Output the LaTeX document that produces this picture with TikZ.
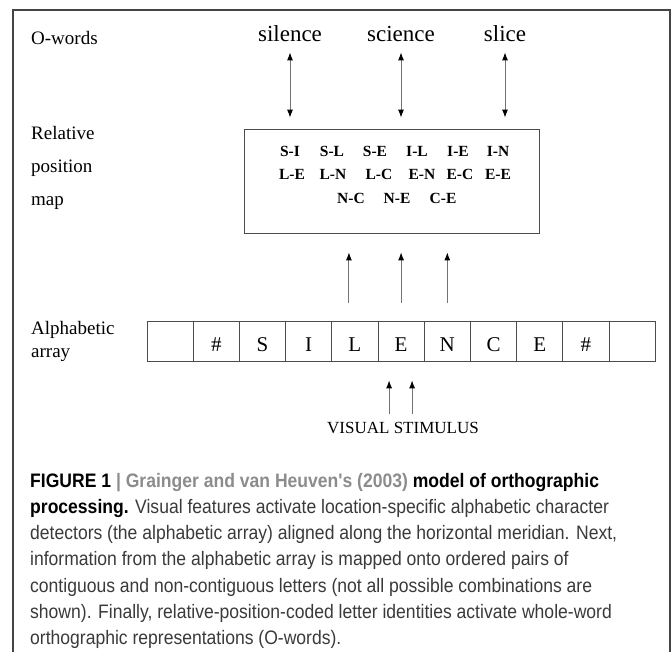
\documentclass[tikz,border=0pt]{standalone}
\usepackage{fontspec}
\setmainfont{Liberation Serif}
\newfontfamily\capfont[FakeStretch=0.9]{Liberation Sans}
\usetikzlibrary{arrows.meta}
\definecolor{framegray}{HTML}{454545}
\definecolor{textgray}{HTML}{3A3A3A}
\definecolor{headgray}{HTML}{8C8C8C}

\begin{document}
\begin{tikzpicture}[x=1pt, y=-1pt,
  >={Latex[length=8pt,width=6pt,color=black]},
  side/.style={anchor=base west, inner sep=0pt, font=\fontsize{19}{19}\selectfont},
  word/.style={anchor=base, inner sep=0pt, font=\fontsize{23}{23}\selectfont},
  pair/.style={anchor=base, inner sep=0pt, font=\fontsize{15.5}{15.5}\selectfont\bfseries},
  cell/.style={draw=black!70, line width=0.8pt, minimum width=46.2pt, minimum height=40pt,
    inner sep=0pt, text height=20pt, text depth=0pt, font=\fontsize{21}{21}\selectfont},
  link/.style={draw=black!55, line width=0.9pt}]
  \useasboundingbox (0,0) rectangle (671,652);
  \draw[framegray, line width=1.5pt] (13,652) -- (13,10) -- (670,10) -- (670,652);

  % left labels
  \node[side] (owords) at (31,45) {O-words};
  \node[side] (rel1) at (31,140) {Relative};
  \node[side] (rel2) at (31,173) {position};
  \node[side] (rel3) at (31,206) {map};
  \node[side] (alpha1) at (31,334) {Alphabetic};
  \node[side] (alpha2) at (31,357) {array};

  % O-words
  \node[word] (silence) at (290,42) {silence};
  \node[word] (science) at (401,42) {science};
  \node[word] (slice) at (505,42) {slice};

  % relative position map
  \node[draw=black!70, line width=0.8pt, minimum width=295pt, minimum height=104pt] (map) at (391.5,181) {};
  \foreach \x/\t [count=\i] in {290/S-I, 332/S-L, 375/S-E, 417/I-L, 458/I-E, 498/I-N}
    \node[pair] (pa\i) at (\x,157) {\t};
  \foreach \x/\t [count=\i] in {292/L-E, 333/L-N, 379/L-C, 422/E-N, 460/E-C, 498/E-E}
    \node[pair] (pb\i) at (\x,180) {\t};
  \foreach \x/\t [count=\i] in {351/N-C, 397/N-E, 443/C-E}
    \node[pair] (pc\i) at (\x,204) {\t};

  % alphabetic array
  \foreach \t [count=\i from 0] in {{}, \#, S, I, L, E, N, C, E, \#, {}}
    \node[cell] (c\i) at (170.1+46.2*\i,341) {\t};

  \node[anchor=base, inner sep=0pt, font=\fontsize{17}{17}\selectfont] (stim) at (403,433) {VISUAL STIMULUS};

  \foreach \w in {silence, science, slice}
    \draw[link, <->, shorten <=10pt, shorten >=11pt] (\w.south) -- (\w.south |- map.north);
  \draw[link, ->, shorten <=18pt, shorten >=19pt] ([xshift=-6pt]c4.north) -- ([xshift=-6pt]c4.north |- map.south);
  \draw[link, ->, shorten <=18pt, shorten >=19pt] (c5.north) -- (c5.north |- map.south);
  \draw[link, ->, shorten <=18pt, shorten >=19pt] (c6.north) -- (c6.north |- map.south);
  \draw[link, ->, shorten <=8pt, shorten >=19pt] ([xshift=-12pt]c5.south |- stim.north) -- ([xshift=-12pt]c5.south);
  \draw[link, ->, shorten <=8pt, shorten >=19pt] ([xshift=11pt]c5.south |- stim.north) -- ([xshift=11pt]c5.south);

  % caption
  \node[anchor=north west, inner sep=0pt, align=left, text=textgray,
    font=\capfont\fontsize{19.5}{26.2}\selectfont] (caption) at (30,473)
    {\textbf{\color{black}FIGURE 1 {\color{headgray}|} {\color{headgray}Grainger and van Heuven's (2003)} model of orthographic}\\
     \textbf{\color{black}processing.} Visual features activate location-specific alphabetic character\\
     detectors (the alphabetic array) aligned along the horizontal meridian. Next,\\
     information from the alphabetic array is mapped onto ordered pairs of\\
     contiguous and non-contiguous letters (not all possible combinations are\\
     shown). Finally, relative-position-coded letter identities activate whole-word\\
     orthographic representations (O-words).};
\end{tikzpicture}
\end{document}
